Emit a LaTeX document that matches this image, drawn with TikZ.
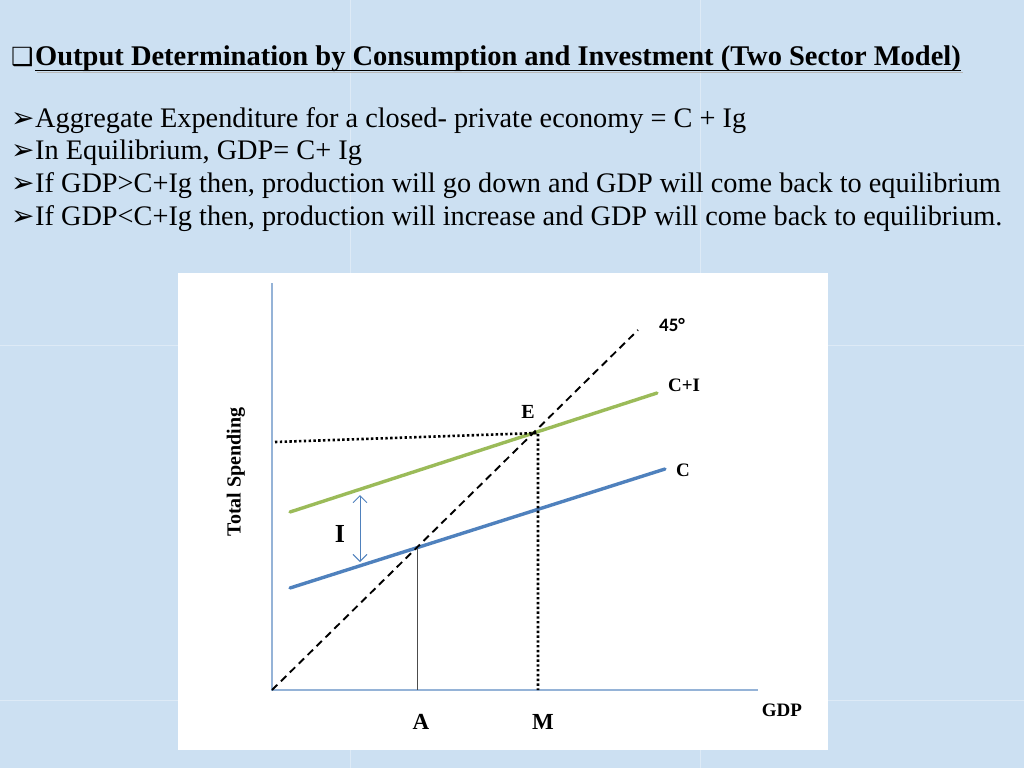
\documentclass[tikz,border=0pt]{standalone}
\usepackage{fontspec}
\setmainfont{Liberation Serif}
\newfontfamily\calfont{Carlito}
\newfontfamily\djfont{DejaVu Sans}
\usetikzlibrary{arrows.meta}
\definecolor{slidebg}{RGB}{204,224,242}
\definecolor{axisblue}{RGB}{149,179,215}
\definecolor{cblue}{RGB}{79,129,189}
\definecolor{cigreen}{RGB}{155,187,89}
\tikzset{
  bullettext/.style={anchor=base west, inner sep=0pt, font=\fontsize{28.3}{32}\selectfont},
  bulletmark/.style={anchor=base west, inner sep=0pt, font=\djfont\fontsize{28}{30}\selectfont},
  axisline/.style={draw=axisblue, line width=1.2pt},
  curveline/.style={line width=3.4pt, line cap=round},
  dottedline/.style={line width=2.6pt, dash pattern=on 2.4pt off 2.4pt},
  lbl/.style={inner sep=0pt, font=\bfseries\fontsize{19}{22}\selectfont},
  biglbl/.style={inner sep=0pt, font=\bfseries\fontsize{23}{26}\selectfont},
  ibarb/.tip={Straight Barb[length=7pt,width=14pt]},
}
\begin{document}
\begin{tikzpicture}[x=1pt,y=-1pt]
\useasboundingbox (0,0) rectangle (1024,768);
\fill[slidebg] (0,0) rectangle (1024,768);
\foreach \xx in {350,700} \draw[white,opacity=0.35,line width=1pt] (\xx,0) -- (\xx,768);
\foreach \yy in {345,700} \draw[white,opacity=0.35,line width=1pt] (0,\yy) -- (1024,\yy);

% title
\node[anchor=base west, inner sep=0pt, font=\djfont\fontsize{25}{28}\selectfont] (tbox) at (11,66) {❑};
\node[anchor=base west, inner sep=0pt, font=\bfseries\fontsize{28.5}{32}\selectfont] (title) at (35,66) {Output Determination by Consumption and Investment (Two Sector Model)};
\draw[gray!55, line width=1.8pt] ([xshift=2pt,yshift=-6.5pt]title.base west) -- ([xshift=2pt,yshift=-6.5pt]title.base east);
\draw[black, line width=1.8pt] ([yshift=-4.5pt]title.base west) -- ([yshift=-4.5pt]title.base east);

% bullets
\node[bulletmark] (b1m) at (11,127) {➢};
\node[bullettext] (b1) at (35,127) {Aggregate Expenditure for a closed- private economy = C + Ig};
\node[bulletmark] (b2m) at (11,159) {➢};
\node[bullettext] (b2) at (35,159) {In Equilibrium, GDP= C+ Ig};
\node[bulletmark] (b3m) at (11,192) {➢};
\node[bullettext] (b3) at (35,192) {If GDP>C+Ig then, production will go down and GDP will come back to equilibrium};
\node[bulletmark] (b4m) at (11,225) {➢};
\node[bullettext] (b4) at (35,225) {If GDP<C+Ig then, production will increase and GDP will come back to equilibrium.};

% chart panel
\fill[white] (178,273) rectangle (828,750);

% coordinates
\coordinate (O) at (272,690);
\coordinate (ytop) at (272,283);
\coordinate (xend) at (758,690);
\coordinate (d45) at (638,330);
\coordinate (ci1) at (290,512);
\coordinate (ci2) at (657,393);
\coordinate (c1) at (290,588);
\coordinate (c2) at (665,469);
\coordinate (E) at (538,433);
\coordinate (Ax) at (417,690);
\coordinate (Ap) at (417,548);
\coordinate (Mx) at (538,690);
\coordinate (Ly) at (275,442);
\coordinate (It) at (360,495);
\coordinate (Ib) at (360,562);

% axes
\draw[axisline] (ytop) -- (O) -- (xend);

% curves
\draw[curveline, cigreen] (ci1) -- (ci2);
\draw[curveline, cblue] (c1) -- (c2);

% 45 line
\draw[black, line width=1.9pt, dash pattern=on 7.5pt off 5pt] (O) -- (d45);

% dotted guides
\draw[dottedline] (Ly) -- (E) -- (Mx);
\draw[black!70, line width=1pt] (Ap) -- (Ax);

% investment arrow
\draw[cblue, line width=0.9pt, ibarb-ibarb] (It) -- (Ib);

% labels
\node[biglbl, font=\bfseries\fontsize{26}{28}\selectfont] (Ilbl) at (340,534) {I};
\node[lbl, font=\bfseries\fontsize{20}{22}\selectfont] (Elbl) at (528,412) {E};
\node[lbl] (CIlbl) at (684,385) {C+I};
\node[lbl] (Clbl) at (683,470) {C};
\node[inner sep=0pt, font=\calfont\bfseries\fontsize{19}{22}\selectfont] (deg) at (672,325) {45°};
\node[lbl] (gdp) at (782,710) {GDP};
\node[biglbl] (A) at (421,722) {A};
\node[biglbl] (M) at (543,722) {M};
\node[lbl, font=\bfseries\fontsize{20}{22}\selectfont, rotate=90] (ts) at (236,472) {Total Spending};
\end{tikzpicture}
\end{document}
